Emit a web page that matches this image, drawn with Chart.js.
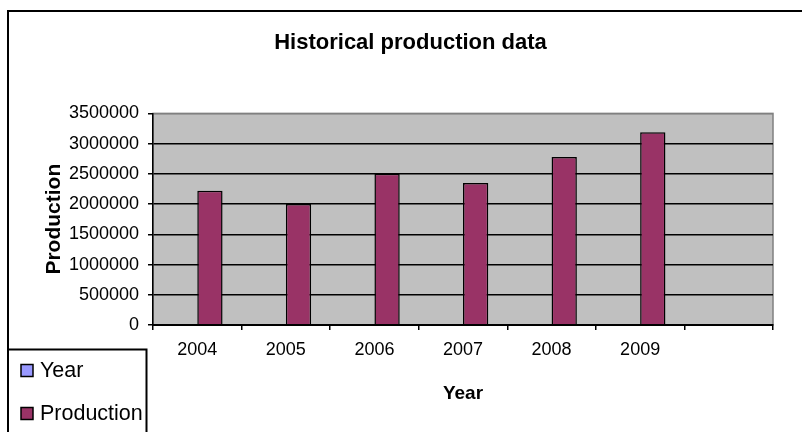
<!DOCTYPE html>
<html><head><meta charset="utf-8">
<script src="https://cdn.jsdelivr.net/npm/chart.js@4.4.1/dist/chart.umd.min.js"></script>
<style>html,body{margin:0;padding:0;background:#fff;overflow:hidden}canvas{display:block}</style>
</head><body>
<canvas id="c" width="802" height="432"></canvas>
<script>
const categories = ['2004','2005','2006','2007','2008','2009',''];
const yearValues = [2004,2005,2006,2007,2008,2009,null];
const productionValues = [2220000,2000000,2500000,2350000,2780000,3190000,null];
const yTicks = [0,500000,1000000,1500000,2000000,2500000,3000000,3500000];
const seriesNames = ['Year','Production'];
const seriesColors = ['#9999ff','#993366'];
const titleText = 'Historical production data';
const xTitle = 'Year';
const yTitle = 'Production';

const FONT = "'Liberation Sans', Arial, sans-serif";
Chart.defaults.font.family = FONT;
Chart.defaults.color = '#000';

const bgPlugin = {
  id: 'bg',
  beforeDraw(chart) {
    const {ctx, chartArea: a} = chart;
    ctx.save();
    ctx.fillStyle = '#fff';
    ctx.fillRect(0, 0, chart.width, chart.height);
    ctx.fillStyle = '#c0c0c0';
    ctx.fillRect(a.left, a.top, a.right - a.left, a.bottom - a.top);
    ctx.strokeStyle = '#808080';
    ctx.lineWidth = 1.5;
    ctx.strokeRect(a.left, a.top, a.right - a.left, a.bottom - a.top);
    ctx.restore();
  },
  afterDraw(chart) {
    const ctx = chart.ctx;
    ctx.save();
    // outer border
    ctx.strokeStyle = '#000';
    ctx.lineWidth = 2;
    ctx.beginPath();
    ctx.moveTo(8, 440); ctx.lineTo(8, 11); ctx.lineTo(810, 11);
    ctx.stroke();
    // legend box
    ctx.beginPath();
    ctx.moveTo(8, 440); ctx.lineTo(8, 349.5); ctx.lineTo(146.5, 349.5); ctx.lineTo(146.5, 440);
    ctx.stroke();
    ctx.font = '21.5px ' + FONT;
    ctx.textBaseline = 'middle';
    ctx.textAlign = 'left';
    chart.data.datasets.forEach((ds, i) => {
      const cy = 371 + i * 43;
      ctx.fillStyle = ds.backgroundColor;
      ctx.fillRect(21, cy - 6.5, 12, 12);
      ctx.lineWidth = 1.5;
      ctx.strokeStyle = '#000';
      ctx.strokeRect(21, cy - 6.5, 12, 12);
      ctx.fillStyle = '#000';
      ctx.fillText(ds.label, 40, cy + 0.5);
    });
    ctx.restore();
  }
};

new Chart(document.getElementById('c'), {
  type: 'bar',
  data: {
    labels: categories,
    datasets: [
      {label: seriesNames[0], data: yearValues, backgroundColor: seriesColors[0], borderColor: '#000', borderWidth: 0, inflateAmount: 0},
      {label: seriesNames[1], data: productionValues, backgroundColor: seriesColors[1], borderColor: '#000', borderWidth: 1.5}
    ]
  },
  options: {
    responsive: false,
    animation: false,
    devicePixelRatio: 1,
    layout: {padding: {left: 48, right: 29, top: 0, bottom: 0}},
    datasets: {bar: {categoryPercentage: 0.571, barPercentage: 1}},
    plugins: {
      legend: {display: false},
      tooltip: {enabled: false},
      title: {display: true, text: titleText, font: {size: 22, weight: 'bold'}, color: '#000', padding: {top: 29.5, bottom: 57.5}}
    },
    scales: {
      x: {
        grid: {display: true, drawOnChartArea: false, drawTicks: true, tickLength: 5, color: '#000', lineWidth: 1.5, offset: true},
        border: {display: true, color: '#000', width: 2, z: 1},
        ticks: {font: {size: 18}, color: '#000', padding: 9.5, maxRotation: 0, autoSkip: false},
        title: {display: true, text: xTitle, font: {size: 19, weight: 'bold'}, color: '#000', padding: {top: 0, bottom: 26.6}},
        afterFit(s) { s.height = 107; }
      },
      y: {
        min: yTicks[0], max: yTicks[yTicks.length - 1],
        grid: {drawTicks: true, tickLength: 5, lineWidth: 1.5, tickColor: '#000',
               color: c => (c.tick && c.tick.value === yTicks[yTicks.length - 1]) ? '#808080' : '#000'},
        border: {display: true, color: '#000', width: 1.5},
        ticks: {stepSize: yTicks[1] - yTicks[0], font: {size: 18}, color: '#000', padding: 9, callback: v => String(v)},
        title: {display: true, text: yTitle, font: {size: 21, weight: 'bold'}, color: '#000', padding: {top: -6.6, bottom: 0}},
        afterFit(s) { s.width = 105; }
      }
    }
  },
  plugins: [bgPlugin]
});
</script>
</body></html>
